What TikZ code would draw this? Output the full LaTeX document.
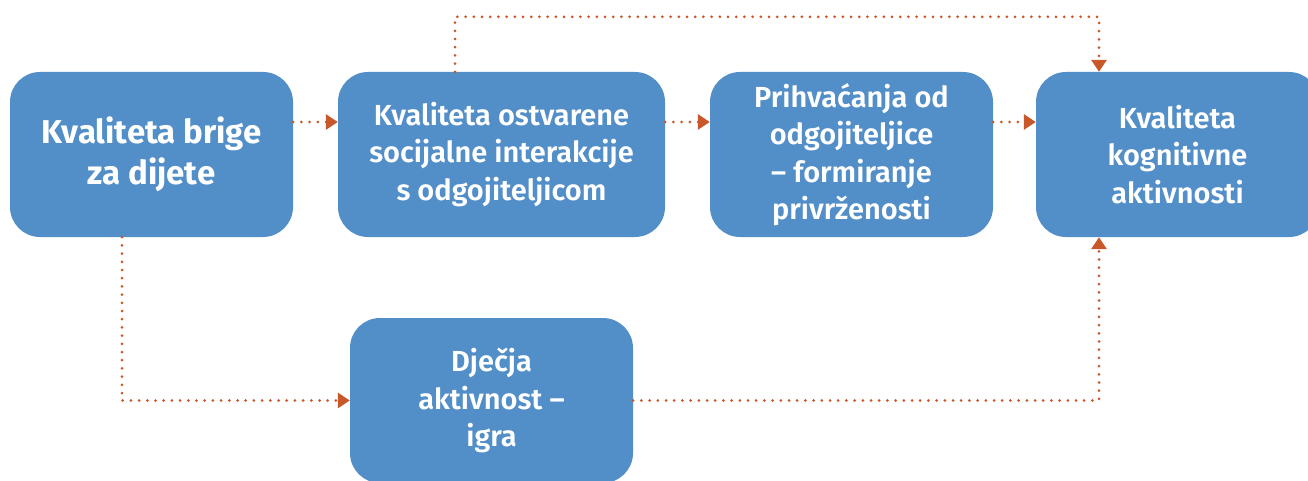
\documentclass[tikz,border=0pt]{standalone}
\usepackage{fontspec}
\setmainfont{Fira Sans}[BoldFont={Fira Sans SemiBold}]
\newfontfamily\carefont{Fira Sans Bold}
\usepackage{xcolor}
\usetikzlibrary{positioning,arrows.meta}

\definecolor{boxblue}{HTML}{528EC8}
\definecolor{linkorange}{HTML}{C8582A}

\tikzset{
  stage/.style={fill=boxblue,rounded corners=30pt,text=white,font=\bfseries\fontsize{29}{37.5}\selectfont,
    align=center,minimum width=283pt,minimum height=165pt,inner sep=0pt},
  link/.style={linkorange,line width=3pt,line cap=round,dash pattern=on 0pt off 8.2pt,
    -{Triangle[length=12pt,width=15pt,line cap=butt]}}
}

\begin{document}
\begin{tikzpicture}[x=1pt,y=1pt]
  \useasboundingbox (0,0) rectangle (1308,480);
  \clip (0,0) rectangle (1308,480);
  % boxes
  \node[stage,font=\carefont\fontsize{33}{41}\selectfont] (care) at (151.5,325.5) {Kvaliteta brige\\za dijete};
  \node[stage,minimum width=327pt] (social) at (501.5,325.5) {Kvaliteta ostvarene\\socijalne interakcije\\s odgojiteljicom};
  \node[stage] (attach) at (851.5,325.5) {Prihvaćanja od\\odgojiteljice\\– formiranje\\privrženosti};
  \node[stage] (cognitive) at (1177.5,325.5) {Kvaliteta\\kognitivne\\aktivnosti};
  \node[stage,minimum height=165pt] (play) at (491.5,79.5) {Dječja\\aktivnost –\\igra};
  % links
  \draw[link] ([yshift=32.5pt]care.east) -- ([yshift=32.5pt]social.west);
  \draw[link] ([yshift=32.5pt]social.east) -- ([yshift=32.5pt]attach.west);
  \draw[link] ([yshift=32.5pt]attach.east) -- ([yshift=32.5pt]cognitive.west);
  \draw[link] ([xshift=-46.5pt]social.north) -- ++(0,55pt) -| ([xshift=-78.5pt]cognitive.north);
  \draw[link] ([xshift=-29.5pt]care.south) |- (play.west);
  \draw[link] (play.east) -| ([xshift=-78.5pt]cognitive.south);
\end{tikzpicture}
\end{document}
